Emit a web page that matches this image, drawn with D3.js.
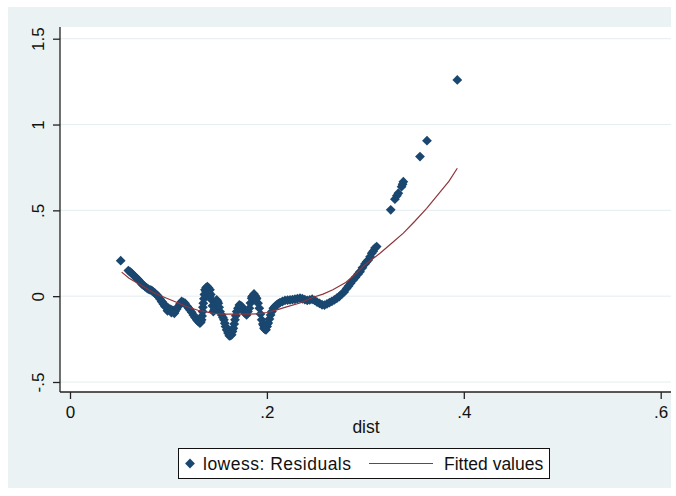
<!DOCTYPE html>
<html>
<head>
<meta charset="utf-8">
<script src="https://cdn.jsdelivr.net/npm/d3@7"></script>
<style>
  body { margin: 0; background: #fff; }
  svg { display: block; font-family: Arial, "Liberation Sans", sans-serif; }
</style>
</head>
<body>
<div id="plot"></div>
<script>
// lowess residuals (dist, residual)
const residuals = [
  [.0515,.207],
  [.0593,.149],[.0610,.142],[.0626,.134],[.0643,.124],[.0660,.114],[.0677,.105],
  [.0694,.095],[.0711,.084],[.0728,.072],[.0745,.064],[.0762,.056],[.0779,.048],
  [.0796,.041],[.0813,.037],[.0830,.033],[.0846,.025],[.0863,.017],[.0880,.008],
  [.0897,-.002],[.0914,-.016],[.0931,-.031],[.0948,-.046],[.0965,-.060],[.0982,-.065],
  [.0999,-.070],[.1016,-.075],[.1033,-.080],[.1050,-.085],[.1067,-.090],[.1084,-.075],
  [.0990,-.085],[.1010,-.082],[.1030,-.095],[.1060,-.100],[.0960,-.050],[.0940,-.035],
  [.1100,-.060],[.1117,-.045],[.1134,-.031],[.1151,-.036],[.1168,-.041],[.1192,-.060],
  [.1205,-.070],[.1219,-.080],[.1236,-.094],[.1253,-.109],[.1270,-.124],[.1287,-.138],
  [.1303,-.148],[.1320,-.157],[.1330,-.150],[.1337,-.138],[.1342,-.115],[.1347,-.090],
  [.1350,-.065],[.1354,-.041],[.1360,-.015],[.1365,.010],[.1371,.037],[.1383,.050],
  [.1395,.056],[.1408,.048],[.1422,.037],[.1430,.010],[.1439,-.022],[.1447,-.056],
  [.1380,.030],[.1390,.038],[.1400,.030],[.1410,.018],[.1375,.012],[.1420,.000],
  [.1456,-.090],[.1465,-.080],[.1473,-.070],[.1482,-.046],[.1490,-.022],[.1499,-.030],
  [.1507,-.041],[.1515,-.065],[.1524,-.090],[.1541,-.109],[.1553,-.124],[.1564,-.138],
  [.1572,-.158],[.1580,-.177],[.1591,-.196],[.1605,-.215],[.1618,-.231],[.1630,-.229],
  [.1600,-.200],[.1612,-.212],[.1625,-.214],[.1637,-.212],[.1648,-.195],
  [.1642,-.225],[.1650,-.206],[.1659,-.187],[.1668,-.162],[.1676,-.138],[.1684,-.114],
  [.1693,-.090],[.1706,-.070],[.1720,-.051],[.1732,-.055],[.1744,-.060],[.1755,-.075],
  [.1767,-.090],[.1780,-.100],[.1794,-.109],[.1808,-.090],[.1822,-.070],[.1833,-.040],
  [.1845,-.012],[.1857,.001],[.1869,.013],[.1882,.001],[.1896,-.012],[.1910,-.041],
  [.1850,-.002],[.1862,-.010],[.1876,-.006],[.1888,-.020],
  [.1923,-.070],[.1935,-.104],[.1947,-.138],[.1959,-.162],[.1971,-.187],[.1981,-.194],
  [.1966,-.170],[.1976,-.180],[.1988,-.182],[.2000,-.165],
  [.1991,-.196],[.2002,-.177],[.2014,-.157],[.2026,-.133],[.2038,-.109],[.2051,-.090],
  [.2065,-.070],[.2082,-.060],[.2099,-.051],[.2116,-.044],[.2133,-.037],[.2158,-.031],
  [.2184,-.025],[.2210,-.023],[.2235,-.022],[.2260,-.020],[.2285,-.018],[.2310,-.015],
  [.2336,-.012],[.2360,-.015],[.2385,-.020],[.2410,-.025],[.2435,-.022],[.2460,-.018],
  [.2485,-.025],[.2510,-.035],[.2535,-.042],[.2560,-.050],[.2585,-.052],[.2610,-.045],
  [.2635,-.038],[.2660,-.030],[.2685,-.022],[.2710,-.012],[.2735,-.002],[.2760,.012],
  [.2785,.025],[.2810,.045],[.2830,.060],[.2850,.075],[.2878,.095],[.2900,.110],
  [.2925,.128],[.2946,.143],[.2970,.165],[.2996,.188],[.3013,.200],[.3030,.211],
  [.3048,.230],[.3065,.250],[.3080,.262],[.3098,.280],[.3115,.289],
  [.3258,.503],[.3300,.565],[.3320,.585],[.3335,.600],[.3368,.638],[.3378,.652],
  [.3386,.667],[.3555,.813],[.3626,.906],[.3934,1.26]
];

// fitted values (dist, fit)
const fitted = [
  [.0525,.140],[.0600,.105],[.0745,.056],[.0850,.020],[.0982,-.012],[.1100,-.040],
  [.1180,-.060],[.1300,-.082],[.1456,-.100],[.1550,-.104],[.1660,-.105],[.1800,-.105],
  [.1900,-.103],[.2000,-.095],[.2100,-.080],[.2200,-.062],[.2336,-.040],[.2470,-.006],
  [.2570,.012],[.2670,.037],[.2800,.080],[.2900,.128],[.3000,.185],[.3149,.250],
  [.3270,.310],[.3386,.367],[.3500,.435],[.3623,.512],[.3750,.600],[.3850,.670],
  [.3934,.745]
];

const xTicks = [0, .2, .4, .6];
const xTickLabels = ["0", ".2", ".4", ".6"];
const yTicks = [-.5, 0, .5, 1, 1.5];
const yTickLabels = ["-.5", "0", ".5", "1", "1.5"];
const legendLabels = ["lowess: Residuals", "Fitted values"];

const W = 676, H = 496;
const navy = "#1a476f", maroon = "#90353b";

const svg = d3.select("#plot").append("svg")
    .attr("width", W).attr("height", H);

// graph region background
svg.append("rect")
    .attr("x", 8).attr("y", 7).attr("width", 663).attr("height", 481)
    .attr("fill", "#eaf2f3");

// plot region
const plot = {left: 60, top: 27, right: 671, bottom: 392};
svg.append("rect")
    .attr("x", plot.left).attr("y", plot.top)
    .attr("width", plot.right - plot.left).attr("height", plot.bottom - plot.top)
    .attr("fill", "#fff");

const x = d3.scaleLinear().domain([0, .6]).range([70, 660.7]);
const y = d3.scaleLinear().domain([-.5, 1.5]).range([382, 38.7]);

// gridlines
svg.append("g").selectAll("line")
    .data(yTicks)
    .enter().append("line")
    .attr("x1", plot.left).attr("x2", plot.right)
    .attr("y1", d => y(d)).attr("y2", d => y(d))
    .attr("stroke", "#e4edf0").attr("stroke-width", 1);

// diamond marker
const diamond = d3.symbol().type(d3.symbolSquare).size(48);

svg.append("g").selectAll("path")
    .data(residuals)
    .enter().append("path")
    .attr("d", diamond)
    .attr("transform", d => "translate(" + x(d[0]) + "," + y(d[1]) + ") rotate(45)")
    .attr("fill", navy);

// fitted line
svg.append("path")
    .datum(fitted)
    .attr("fill", "none")
    .attr("stroke", maroon)
    .attr("stroke-width", 1.2)
    .attr("d", d3.line().x(d => x(d[0])).y(d => y(d[1])));

// axes
const xAxis = svg.append("g")
    .attr("transform", "translate(0," + plot.bottom + ")")
    .call(d3.axisBottom(x).tickValues(xTicks)
        .tickFormat((d, i) => xTickLabels[i]).tickSize(7).tickPadding(7).tickSizeOuter(0));
xAxis.select(".domain").attr("d", "M" + plot.left + ",0H" + plot.right);

const yAxis = svg.append("g")
    .attr("transform", "translate(" + plot.left + ",0)")
    .call(d3.axisLeft(y).tickValues(yTicks)
        .tickFormat((d, i) => yTickLabels[i]).tickSize(7).tickSizeOuter(0));
yAxis.select(".domain").attr("d", "M0," + plot.top + "V" + plot.bottom);
yAxis.selectAll(".tick text")
    .attr("x", null).attr("dy", null)
    .attr("text-anchor", "middle")
    .attr("transform", "translate(-16,0) rotate(-90)");

svg.selectAll(".domain, .tick line")
    .attr("stroke", "#222").attr("stroke-width", 1.3);
svg.selectAll(".tick text")
    .attr("fill", "#111").style("font-size", "17px")
    .style("font-family", "Arial, 'Liberation Sans', sans-serif");

// x title
svg.append("text")
    .attr("x", 366).attr("y", 433)
    .attr("text-anchor", "middle")
    .attr("fill", "#111").style("font-size", "17.5px")
    .text("dist");

// legend
const lg = svg.append("g");
lg.append("rect")
    .attr("x", 178.5).attr("y", 448.5).attr("width", 371).attr("height", 30)
    .attr("fill", "#fff").attr("stroke", "#111").attr("stroke-width", 1);
lg.append("path")
    .attr("d", diamond)
    .attr("transform", "translate(190,463.5) rotate(45)")
    .attr("fill", navy);
lg.append("text")
    .attr("x", 203).attr("y", 469.5)
    .attr("fill", "#111").style("font-size", "17.5px")
    .attr("textLength", 148).attr("lengthAdjust", "spacing")
    .text(legendLabels[0]);
lg.append("line")
    .attr("x1", 369).attr("x2", 433).attr("y1", 463.5).attr("y2", 463.5)
    .attr("stroke", maroon).attr("stroke-width", 1.2);
lg.append("text")
    .attr("x", 444).attr("y", 469.5)
    .attr("fill", "#111").style("font-size", "17.5px")
    .text(legendLabels[1]);
</script>
</body>
</html>
